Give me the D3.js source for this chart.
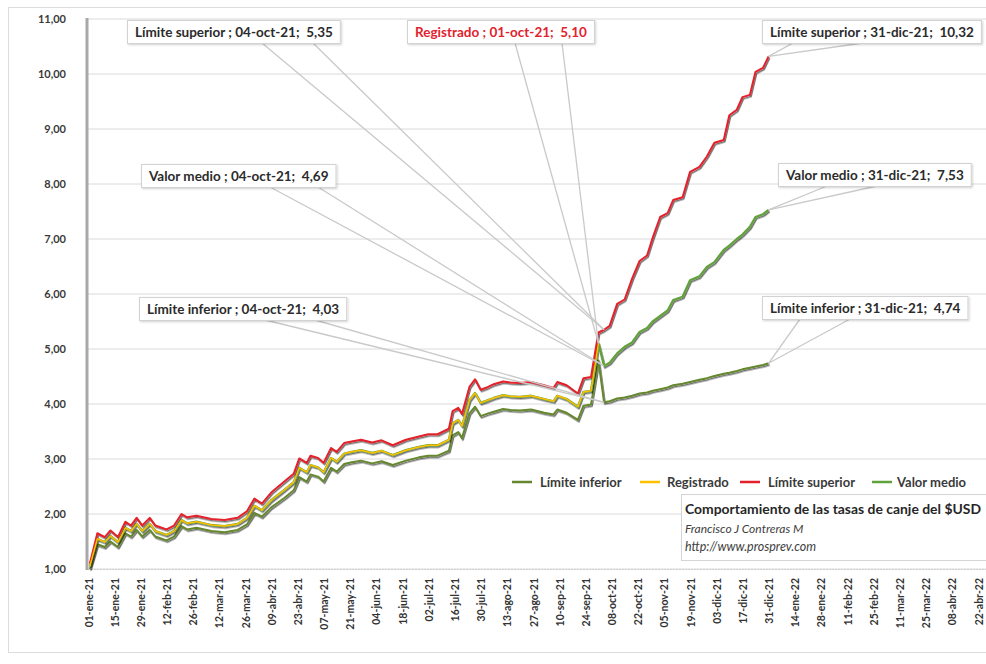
<!DOCTYPE html>
<html><head><meta charset="utf-8">
<script src="https://cdn.jsdelivr.net/npm/d3@7"></script>
<style>
body{margin:0;background:#fff}
svg{display:block;font-family:Lato,'Open Sans',sans-serif}
text{white-space:pre}
</style>
</head><body>
<svg id="c" width="986" height="664"></svg>
<script>
// ---------- DATA ----------
const fechasHist = ["2021-01-02","2021-01-06","2021-01-10","2021-01-13","2021-01-17","2021-01-21","2021-01-24","2021-01-27","2021-01-30",
"2021-02-03","2021-02-06","2021-02-12","2021-02-16","2021-02-20","2021-02-23","2021-02-28",
"2021-03-08","2021-03-15","2021-03-22","2021-03-27","2021-03-31",
"2021-04-04","2021-04-09","2021-04-16","2021-04-21","2021-04-24","2021-04-28","2021-04-30",
"2021-05-04","2021-05-07","2021-05-11","2021-05-14","2021-05-18","2021-05-22","2021-05-27",
"2021-06-02","2021-06-07","2021-06-13","2021-06-20","2021-06-27",
"2021-07-02","2021-07-07","2021-07-13","2021-07-15","2021-07-18","2021-07-20","2021-07-24","2021-07-27","2021-07-30",
"2021-08-03","2021-08-06","2021-08-11","2021-08-15","2021-08-20","2021-08-26",
"2021-09-02","2021-09-07","2021-09-09","2021-09-14","2021-09-20","2021-09-23","2021-09-27",
"2021-10-01"];
const registrado = [1.05,1.55,1.49,1.60,1.49,1.75,1.69,1.82,1.69,
1.82,1.69,1.62,1.69,1.89,1.83,1.86,
1.80,1.78,1.82,1.93,2.15,
2.07,2.25,2.44,2.58,2.84,2.76,2.89,
2.85,2.76,3.02,2.95,3.10,3.13,3.16,
3.11,3.15,3.07,3.16,3.22,
3.25,3.25,3.35,3.65,3.71,3.60,4.07,4.20,4.02,
4.07,4.11,4.16,4.14,4.13,4.15,
4.09,4.05,4.15,4.09,3.95,4.22,4.24,
5.10];
const limSupHist = [1.10,1.65,1.58,1.70,1.58,1.86,1.79,1.93,1.79,
1.93,1.79,1.72,1.79,2.00,1.94,1.97,
1.91,1.89,1.93,2.05,2.28,
2.19,2.39,2.59,2.73,3.01,2.93,3.06,
3.02,2.93,3.20,3.13,3.29,3.32,3.35,
3.30,3.34,3.25,3.35,3.41,
3.45,3.45,3.55,3.87,3.93,3.82,4.31,4.45,4.26,
4.31,4.36,4.41,4.39,4.38,4.40,
4.34,4.29,4.40,4.34,4.19,4.47,4.49,
5.30];
const limInfHist = [1.00,1.45,1.40,1.50,1.40,1.65,1.59,1.71,1.59,
1.71,1.59,1.52,1.59,1.78,1.72,1.75,
1.69,1.67,1.71,1.81,2.02,
1.95,2.12,2.29,2.43,2.67,2.59,2.72,
2.68,2.59,2.84,2.77,2.91,2.94,2.97,
2.92,2.96,2.89,2.97,3.03,
3.06,3.06,3.15,3.43,3.49,3.38,3.83,3.95,3.78,
3.83,3.86,3.91,3.89,3.88,3.90,
3.84,3.81,3.90,3.84,3.71,3.97,3.99,
4.79];
const fechasProy = ["2021-10-04","2021-10-07","2021-10-11","2021-10-15","2021-10-19","2021-10-23","2021-10-27","2021-10-30",
"2021-11-03","2021-11-07","2021-11-10","2021-11-15","2021-11-19","2021-11-24","2021-11-28",
"2021-12-02","2021-12-07","2021-12-10","2021-12-14","2021-12-17","2021-12-21","2021-12-24","2021-12-28","2021-12-31"];
const limSupProy = [5.35,5.42,5.82,5.90,6.28,6.60,6.70,7.02,7.40,7.47,7.71,7.76,8.22,8.31,8.50,8.75,8.80,9.25,9.35,9.58,9.62,10.04,10.11,10.32];
const valorMedioProy = [4.69,4.75,4.92,5.04,5.12,5.31,5.38,5.50,5.60,5.70,5.89,5.95,6.25,6.32,6.49,6.58,6.80,6.88,7.00,7.08,7.22,7.40,7.45,7.53];
const limInfProy = [4.03,4.05,4.10,4.12,4.15,4.19,4.21,4.24,4.27,4.30,4.34,4.37,4.40,4.44,4.47,4.51,4.55,4.57,4.60,4.63,4.66,4.68,4.71,4.74];

const ticksX = ["01-ene-21","15-ene-21","29-ene-21","12-feb-21","26-feb-21","12-mar-21","26-mar-21","09-abr-21","23-abr-21",
"07-may-21","21-may-21","04-jun-21","18-jun-21","02-jul-21","16-jul-21","30-jul-21","13-ago-21","27-ago-21","10-sep-21",
"24-sep-21","08-oct-21","22-oct-21","05-nov-21","19-nov-21","03-dic-21","17-dic-21","31-dic-21","14-ene-22","28-ene-22",
"11-feb-22","25-feb-22","11-mar-22","25-mar-22","08-abr-22","22-abr-22"];
const ticksY = [1,2,3,4,5,6,7,8,9,10,11];
const nombres = {inf:"Límite inferior", reg:"Registrado", sup:"Límite superior", med:"Valor medio"};
const titulo = ["Comportamiento de las tasas de canje del $USD","Francisco J Contreras M","http://www.prosprev.com"];

// ---------- HELPERS ----------
const meses = ['ene','feb','mar','abr','may','jun','jul','ago','sep','oct','nov','dic'];
const parseISO = d3.timeParse("%Y-%m-%d");
const parseES = s => { const [d,m,y] = s.split('-'); return new Date(2000+ +y, meses.indexOf(m), +d); };
const fmtES = dt => `${String(dt.getDate()).padStart(2,'0')}-${meses[dt.getMonth()]}-${String(dt.getFullYear()).slice(2)}`;
const fmtNum = v => d3.format(".2f")(v).replace('.', ',');

const hist = fechasHist.map(parseISO), proy = fechasProy.map(parseISO);
const zip = (ds, vs) => ds.map((d,i)=>({d, v:vs[i]}));
const series = {
  inf: zip(hist.concat(proy), limInfHist.concat(limInfProy)),
  med: zip(hist.concat(proy), registrado.concat(valorMedioProy)),
  sup: zip(hist.concat(proy), limSupHist.concat(limSupProy)),
  reg: zip(hist, registrado)
};
const colores = {inf:"#65872f", reg:"#ffc000", sup:"#e3202b", med:"#62a23c"};
const anchos = {inf:2, med:2.3, sup:2, reg:1.5};

// ---------- SVG ----------
const svg = d3.select("#c");
const defs = svg.append("defs");
const f = defs.append("filter").attr("id","sh").attr("x","-5%").attr("y","-5%").attr("width","110%").attr("height","110%");
f.append("feDropShadow").attr("dx",1).attr("dy",1.5).attr("stdDeviation",0.7).attr("flood-color","#000").attr("flood-opacity",0.55);
const fb = defs.append("filter").attr("id","shb").attr("x","-10%").attr("y","-20%").attr("width","120%").attr("height","160%");
fb.append("feDropShadow").attr("dx",1).attr("dy",1).attr("stdDeviation",1).attr("flood-color","#000").attr("flood-opacity",0.18);

svg.append("rect").attr("x",8.5).attr("y",7.5).attr("width",990).attr("height",645)
  .attr("fill","#fff").attr("stroke","#dcdcdc");

const x = d3.scaleTime().domain([parseES(ticksX[0]), parseES(ticksX[ticksX.length-1])]).range([88, 978]);
const y = d3.scaleLinear().domain([1, 11]).range([569, 19]);

// gridlines
svg.append("g").selectAll("line").data(ticksY).join("line")
  .attr("x1",88).attr("x2",986).attr("y1",d=>y(d)).attr("y2",d=>y(d))
  .attr("stroke","#dadada").attr("stroke-width",1);

// y axis
const yAx = svg.append("g").attr("transform","translate(66,0)")
  .call(d3.axisLeft(y).tickValues(ticksY).tickFormat(fmtNum).tickSize(0).tickPadding(0));
yAx.select(".domain").remove();
yAx.selectAll("text").attr("font-size",11).attr("font-weight",700).attr("fill","#3a3a3a").attr("font-family","Lato");

// x axis
const xAx = svg.append("g").attr("transform",`translate(0,${y(1)})`)
  .call(d3.axisBottom(x).tickValues(ticksX.map(parseES)).tickFormat(fmtES).tickSize(0).tickPadding(0));
xAx.select(".domain").attr("stroke","#d0d0d0").attr("stroke-dasharray","2,1").attr("d",`M88,0.5H986`);
xAx.selectAll("text").attr("font-size",10.5).attr("font-weight",700).attr("fill","#333")
  .attr("font-family","Lato").attr("text-anchor","end").attr("dy",null)
  .attr("transform","translate(4,9) rotate(-90)");

// left axis bar
svg.append("line").attr("x1",87).attr("x2",87).attr("y1",y(11)-1).attr("y2",y(1)+1)
  .attr("stroke","#a8a8a8").attr("stroke-width",3);

// lines
const line = d3.line().x(p=>x(p.d)).y(p=>y(p.v));
const g = svg.append("g");
["inf","med","sup","reg"].forEach(k=>{
  g.append("path").datum(series[k]).attr("d",line).attr("fill","none")
    .attr("stroke",colores[k]).attr("stroke-width",anchos[k]).attr("stroke-linejoin","round")
    .attr("filter", k==="reg" ? null : "url(#sh)");
});

// callouts
const callouts = [
  {k:"sup", fecha:"2021-10-04", bx:127, by:20, l:[135,186]},
  {k:"reg", fecha:"2021-10-01", bx:407, by:20, l:[108,155], rojo:true},
  {k:"sup", fecha:"2021-12-31", bx:762, by:20, l:[31,101]},
  {k:"med", fecha:"2021-10-04", bx:141, by:164, l:[129,177]},
  {k:"med", fecha:"2021-12-31", bx:778, by:163, l:[49,99]},
  {k:"inf", fecha:"2021-10-04", bx:139, by:297, l:[126,176]},
  {k:"inf", fecha:"2021-12-31", bx:762, by:296, l:[38,88]}
];
const cg = svg.append("g");
const leaders = cg.append("g");
callouts.forEach(c=>{
  const dt = parseISO(c.fecha);
  const pt = series[c.k].find(p=>+p.d===+dt);
  const txt = `${nombres[c.k]} ; ${fmtES(dt)};  ${fmtNum(pt.v)}`;
  const h = 23;
  c.l.forEach(o=>{
    leaders.append("line").attr("x1",c.bx+o).attr("y1",c.by+h).attr("x2",x(pt.d)).attr("y2",y(pt.v))
      .attr("stroke","#c9c9c9").attr("stroke-width",1.3);
  });
  const gg = cg.append("g");
  const r = gg.append("rect").attr("x",c.bx+0.5).attr("y",c.by+0.5).attr("height",h)
    .attr("fill","#fff").attr("stroke","#d2d2d2").attr("filter","url(#shb)");
  const t = gg.append("text").attr("x",c.bx+8).attr("y",c.by+16.5).text(txt)
    .attr("font-size",13.5).attr("font-weight",700).attr("fill", c.rojo ? "#e2222e" : "#2b2b2b");
  r.attr("width", Math.min(t.node().getComputedTextLength()+15, 985-c.bx));
});

// legend
const leg = [["inf",512,540],["reg",640,667],["sup",740,768],["med",872,897]];
const lg = svg.append("g");
leg.forEach(([k,lx,tx])=>{
  lg.append("line").attr("x1",lx).attr("x2",lx+20).attr("y1",482).attr("y2",482)
    .attr("stroke",colores[k]).attr("stroke-width",2.5);
  lg.append("text").attr("x",tx).attr("y",486.5).text(nombres[k])
    .attr("font-size",13).attr("font-weight",700).attr("fill","#3a3a3a");
});

// info box
svg.append("rect").attr("x",681.5).attr("y",494.5).attr("width",320).attr("height",66)
  .attr("fill","#fff").attr("stroke","#d4d4d4");
svg.append("text").attr("x",685).attr("y",514).text(titulo[0]).attr("font-size",13.5).attr("font-weight",700).attr("fill","#262626")
  .attr("textLength",296).attr("lengthAdjust","spacingAndGlyphs");
svg.append("text").attr("x",685).attr("y",532.5).text(titulo[1]).attr("font-size",12).attr("font-style","italic").attr("fill","#404040");
svg.append("text").attr("x",685).attr("y",551).text(titulo[2]).attr("font-size",12.5).attr("font-style","italic").attr("fill","#404040");
</script>
</body></html>
